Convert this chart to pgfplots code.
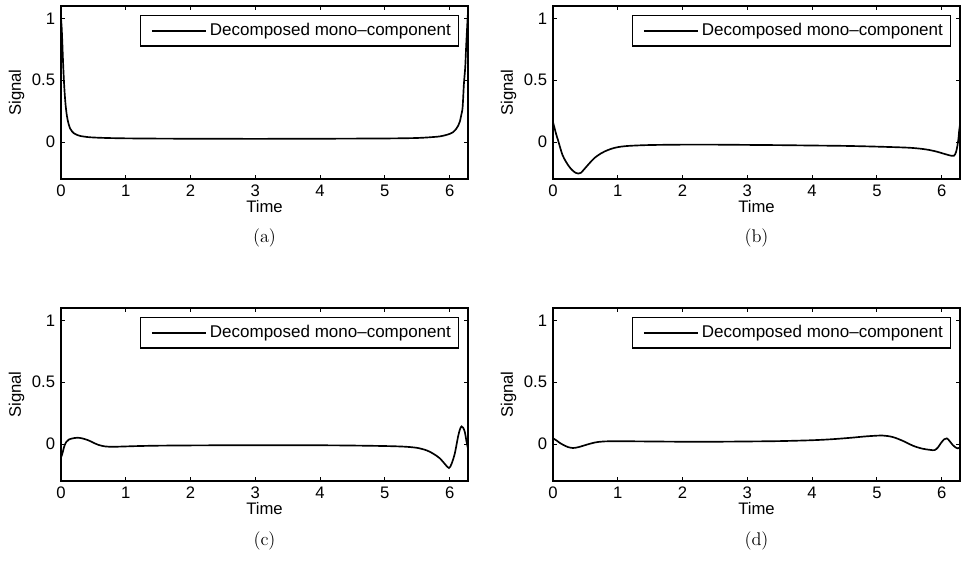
\documentclass[border=0pt]{standalone}
\usepackage{fontspec}
\usepackage{pgfplots}
\pgfplotsset{compat=1.18}
\newfontfamily\arial{Liberation Sans}

% 1 px of the reference = 0.6pt
\pgfplotsset{
  matpanel/.style={
    scale only axis, width=244.2pt, height=103.8pt,
    xmin=0, xmax=6.2832, ymin=-0.3, ymax=1.1,
    xtick={0,1,2,3,4,5,6}, ytick={0,0.5,1},
    tick align=inside, major tick length=2.6pt,
    every tick/.style={black, line width=0.5pt},
    axis line style={line width=1pt},
    tick label style={font=\arial\fontsize{10}{12}\selectfont},
    /pgf/number format/assume math mode=true,
    label style={font=\arial\fontsize{10}{12}\selectfont},
    xlabel=Time, ylabel=Signal,
    xlabel style={at={(axis description cs:0.5,-0.16)}, anchor=center},
    ylabel style={at={(axis description cs:-0.1093,0.5)}, anchor=center},
    legend style={at={(axis description cs:1,1)}, anchor=north east,
      xshift=-5.4pt, yshift=-5.4pt, draw=black, line width=0.7pt,
      font=\arial\fontsize{10.2}{12}\selectfont, inner xsep=2.5pt, inner ysep=2.7pt},
    legend cell align=left,
    legend image code/.code={\path (0pt,0pt); \draw[#1] (3.6pt,0pt) -- (36pt,0pt);},
  },
  curve/.style={black, line width=1pt, smooth, no markers},
}

\begin{document}
\begin{tikzpicture}
\path (0,0) rectangle (577.8pt,-345.6pt);

% (a)
\begin{axis}[matpanel, name=a, at={(36.6pt,-107.4pt)}, anchor=south west]
\addplot[curve] coordinates {
  (0.000,1.000) (0.010,0.930) (0.020,0.810) (0.030,0.670) (0.040,0.550)
  (0.050,0.450) (0.060,0.370) (0.070,0.305) (0.080,0.255) (0.090,0.215)
  (0.100,0.185) (0.120,0.140) (0.140,0.110) (0.170,0.085) (0.200,0.070)
  (0.250,0.056) (0.300,0.048) (0.400,0.040) (0.500,0.036) (0.700,0.032)
  (1.000,0.029) (1.500,0.027) (2.000,0.026) (3.000,0.025) (4.000,0.026)
  (4.500,0.027) (5.000,0.028) (5.500,0.032) (5.800,0.042) (5.900,0.050)
  (6.000,0.065) (6.050,0.078) (6.100,0.105) (6.130,0.130) (6.160,0.170)
  (6.180,0.220) (6.200,0.280) (6.220,0.470) (6.240,0.600) (6.250,0.720)
  (6.260,0.830) (6.270,0.930) (6.283,1.050)
};
\addlegendentry{Decomposed mono–component}
\end{axis}

% (b)
\begin{axis}[matpanel, name=b, at={(331.8pt,-107.4pt)}, anchor=south west]
\addplot[curve] coordinates {
  (0.000,0.160) (0.020,0.120) (0.050,0.060) (0.080,0.010) (0.110,-0.045)
  (0.150,-0.110) (0.200,-0.160) (0.250,-0.200) (0.300,-0.230) (0.350,-0.250)
  (0.390,-0.256) (0.430,-0.250) (0.480,-0.222) (0.550,-0.180) (0.640,-0.130)
  (0.750,-0.090) (0.850,-0.065) (0.950,-0.048) (1.050,-0.038) (1.200,-0.031)
  (1.500,-0.025) (2.000,-0.022) (2.500,-0.022) (3.000,-0.024) (3.500,-0.026)
  (4.000,-0.029) (4.500,-0.032) (5.000,-0.038) (5.500,-0.047) (5.750,-0.060)
  (5.920,-0.078) (6.050,-0.098) (6.150,-0.112) (6.190,-0.112) (6.220,-0.085)
  (6.240,-0.040) (6.260,0.030) (6.270,0.090) (6.283,0.140)
};
\addlegendentry{Decomposed mono–component}
\end{axis}

% (c)
\begin{axis}[matpanel, name=c, at={(36.6pt,-288.6pt)}, anchor=south west]
\addplot[curve] coordinates {
  (0.000,-0.110) (0.020,-0.080) (0.050,-0.020) (0.080,0.015) (0.120,0.035)
  (0.180,0.045) (0.250,0.050) (0.320,0.046) (0.420,0.030) (0.500,0.010)
  (0.580,-0.008) (0.680,-0.020) (0.800,-0.023) (0.950,-0.021) (1.200,-0.017)
  (1.500,-0.014) (2.000,-0.012) (3.000,-0.010) (4.000,-0.011) (4.500,-0.013)
  (5.000,-0.017) (5.300,-0.022) (5.500,-0.032) (5.650,-0.053) (5.750,-0.080)
  (5.850,-0.117) (5.930,-0.165) (5.990,-0.195) (6.030,-0.160) (6.080,-0.076)
  (6.130,0.060) (6.160,0.120) (6.185,0.142) (6.210,0.130) (6.235,0.095)
  (6.260,0.020) (6.283,-0.040)
};
\addlegendentry{Decomposed mono–component}
\end{axis}

% (d)
\begin{axis}[matpanel, name=d, at={(331.8pt,-288.6pt)}, anchor=south west]
\addplot[curve] coordinates {
  (0.000,0.045) (0.050,0.030) (0.100,0.010) (0.160,-0.008) (0.230,-0.025)
  (0.310,-0.033) (0.400,-0.025) (0.520,-0.006) (0.650,0.012) (0.780,0.020)
  (1.000,0.022) (1.500,0.020) (2.000,0.018) (2.500,0.018) (3.000,0.020)
  (3.500,0.023) (4.000,0.030) (4.300,0.038) (4.600,0.050) (4.850,0.062)
  (5.090,0.068) (5.250,0.055) (5.400,0.025) (5.560,-0.015) (5.700,-0.038)
  (5.820,-0.048) (5.890,-0.050) (5.940,-0.030) (5.990,0.008) (6.040,0.038)
  (6.080,0.045) (6.120,0.025) (6.170,-0.008) (6.220,-0.030) (6.250,-0.036)
  (6.283,-0.028)
};
\addlegendentry{Decomposed mono–component}
\end{axis}

\node[font=\fontsize{11}{13}\selectfont] at ([yshift=-35.4pt]a.south) {(a)};
\node[font=\fontsize{11}{13}\selectfont] at ([yshift=-35.4pt]b.south) {(b)};
\node[font=\fontsize{11}{13}\selectfont] at ([yshift=-35.7pt]c.south) {(c)};
\node[font=\fontsize{11}{13}\selectfont] at ([yshift=-35.7pt]d.south) {(d)};
\end{tikzpicture}
\end{document}
